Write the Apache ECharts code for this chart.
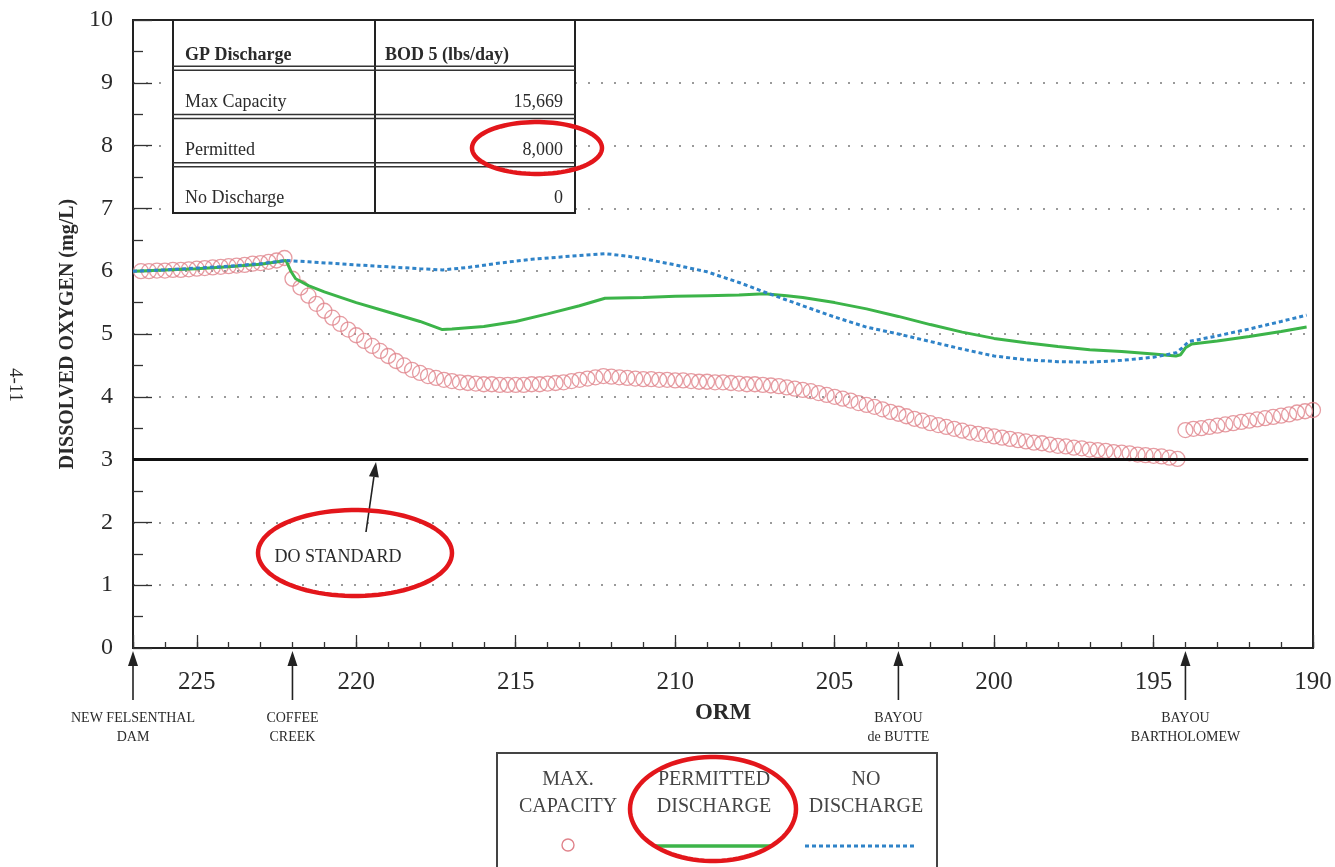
<!DOCTYPE html>
<html><head><meta charset="utf-8">
<script src="https://cdn.jsdelivr.net/npm/echarts@6/dist/echarts.min.js"></script>
<style>html,body{margin:0;padding:0;background:#fff}#c{width:1335px;height:867px}</style>
</head><body><div id="c"></div>
<script>
// ---- DATA (ORM river mile, dissolved oxygen mg/L) ----
const maxCapacity = [
[226.75,6.00],[226.5,6.00],[226.25,6.01],[226.0,6.01],[225.75,6.02],[225.5,6.02],[225.25,6.03],[225.0,6.04],
[224.75,6.05],[224.5,6.06],[224.25,6.07],[224.0,6.08],[223.75,6.09],[223.5,6.10],[223.25,6.12],[223.0,6.13],
[222.75,6.15],[222.5,6.17],[222.25,6.21],[222.0,5.88],[221.75,5.74],[221.5,5.61],[221.25,5.48],[221.0,5.37],
[220.75,5.26],[220.5,5.16],[220.25,5.07],[220.0,4.98],[219.75,4.89],[219.5,4.81],[219.25,4.73],[219.0,4.65],
[218.75,4.57],[218.5,4.50],[218.25,4.43],[218.0,4.38],[217.75,4.33],[217.5,4.30],[217.25,4.27],[217.0,4.25],
[216.75,4.23],[216.5,4.22],[216.25,4.21],[216.0,4.20],[215.75,4.20],[215.5,4.19],[215.25,4.19],[215.0,4.19],
[214.75,4.19],[214.5,4.20],[214.25,4.20],[214.0,4.21],[213.75,4.22],[213.5,4.23],[213.25,4.25],[213.0,4.27],
[212.75,4.29],[212.5,4.31],[212.25,4.33],[212.0,4.32],[211.75,4.31],[211.5,4.30],[211.25,4.29],[211.0,4.28],
[210.75,4.28],[210.5,4.27],[210.25,4.27],[210.0,4.26],[209.75,4.26],[209.5,4.25],[209.25,4.24],[209.0,4.24],
[208.75,4.23],[208.5,4.23],[208.25,4.22],[208.0,4.21],[207.75,4.20],[207.5,4.20],[207.25,4.19],[207.0,4.18],
[206.75,4.17],[206.5,4.15],[206.25,4.13],[206.0,4.11],[205.75,4.09],[205.5,4.06],[205.25,4.03],[205.0,4.00],
[204.75,3.97],[204.5,3.94],[204.25,3.90],[204.0,3.87],[203.75,3.84],[203.5,3.80],[203.25,3.76],[203.0,3.73],
[202.75,3.69],[202.5,3.65],[202.25,3.62],[202.0,3.58],[201.75,3.55],[201.5,3.52],[201.25,3.49],[201.0,3.46],
[200.75,3.43],[200.5,3.41],[200.25,3.39],[200.0,3.37],[199.75,3.35],[199.5,3.33],[199.25,3.31],[199.0,3.29],
[198.75,3.27],[198.5,3.26],[198.25,3.24],[198.0,3.22],[197.75,3.21],[197.5,3.19],[197.25,3.18],[197.0,3.16],
[196.75,3.15],[196.5,3.14],[196.25,3.12],[196.0,3.11],[195.75,3.10],[195.5,3.08],[195.25,3.07],[195.0,3.06],
[194.75,3.05],[194.5,3.03],[194.25,3.01],[194.0,3.47],[193.75,3.49],[193.5,3.50],[193.25,3.52],[193.0,3.54],
[192.75,3.56],[192.5,3.58],[192.25,3.60],[192.0,3.62],[191.75,3.64],[191.5,3.66],[191.25,3.68],[191.0,3.70],
[190.75,3.72],[190.5,3.75],[190.25,3.77],[190.0,3.79]
];
const permittedDischarge = [
[227,6.00],[226,6.02],[225,6.04],[224,6.07],[223,6.11],[222.2,6.17],[222.05,6.00],[221.9,5.88],[221.5,5.77],
[221,5.67],[220,5.50],[219,5.35],[218,5.20],[217.3,5.07],[217,5.08],[216,5.12],[215,5.20],[214,5.32],[213,5.45],
[212.2,5.57],[211,5.58],[210,5.60],[209,5.61],[208,5.62],[207.2,5.64],[206.5,5.61],[206,5.58],[205,5.50],
[204,5.40],[203,5.28],[202,5.15],[201,5.03],[200,4.93],[199,4.86],[198,4.80],[197,4.75],[196,4.72],[195,4.68],
[194.3,4.65],[194.15,4.67],[194.0,4.78],[193.8,4.84],[193,4.89],[192,4.96],[191,5.04],[190.2,5.11]
];
const noDischarge = [
[227,6.00],[226,6.02],[225,6.05],[224,6.08],[223,6.12],[222.2,6.17],[221.5,6.15],[220,6.10],[219,6.07],[218,6.04],
[217.3,6.02],[216.5,6.06],[215.5,6.13],[214.5,6.19],[213.5,6.23],[212.2,6.28],[211.5,6.24],[211,6.20],[210,6.10],
[209,5.99],[208,5.82],[207.1,5.65],[206,5.45],[205,5.27],[204,5.11],[203,5.00],[202,4.88],[201,4.76],[200,4.65],
[199,4.59],[198,4.56],[197,4.55],[196,4.58],[195,4.63],[194.3,4.70],[194.1,4.78],[193.9,4.88],[193,4.97],
[192,5.08],[191,5.20],[190.2,5.30]
];
const doStandardValue = 3;
const doStandardRange = [227, 190.15];
const sites = [
  {lines: ['NEW FELSENTHAL', 'DAM'], orm: 227},
  {lines: ['COFFEE', 'CREEK'], orm: 222},
  {lines: ['BAYOU', 'de BUTTE'], orm: 203},
  {lines: ['BAYOU', 'BARTHOLOMEW'], orm: 194}
];
const tableHeader = ['GP Discharge', 'BOD 5 (lbs/day)'];
const tableRows = [['Max Capacity', '15,669'], ['Permitted', '8,000'], ['No Discharge', '0']];
const legendItems = [['MAX.', 'CAPACITY'], ['PERMITTED', 'DISCHARGE'], ['NO', 'DISCHARGE']];

// ---- STYLE ----
const SERIF = "'Liberation Serif','DejaVu Serif',serif";
const TXT = '#2a2a2a';
const RED_C = '#e0838b';
const GREEN = '#3cb449';
const BLUE = '#2f83c8';
const ANN = '#e3161b';

const chart = echarts.init(document.getElementById('c'));
const xCommon = {type: 'value', min: 190, max: 227, inverse: true, position: 'bottom', offset: 0};
chart.setOption({
  animation: false,
  backgroundColor: '#fff',
  grid: {left: 133, right: 22, top: 20, bottom: 219, show: true, borderColor: '#222', borderWidth: 2},
  xAxis: [
    Object.assign({}, xCommon, {
      interval: 1,
      axisLine: {show: true, lineStyle: {color: '#222', width: 2}},
      axisTick: {show: true, inside: true, length: 6, lineStyle: {color: '#333', width: 1.3}},
      axisLabel: {show: false},
      splitLine: {show: false}
    }),
    Object.assign({}, xCommon, {
      interval: 5,
      axisLine: {show: false},
      axisTick: {show: true, inside: true, length: 13, lineStyle: {color: '#333', width: 1.3}},
      axisLabel: {show: true, margin: 22, fontFamily: SERIF, fontSize: 25, color: TXT,
        formatter: v => (v % 5 === 0 ? String(v) : '')},
      splitLine: {show: false},
      name: 'ORM', nameLocation: 'middle', nameGap: 54,
      nameTextStyle: {fontFamily: SERIF, fontSize: 23, fontWeight: 'bold', color: TXT}
    })
  ],
  yAxis: {
    type: 'value', min: 0, max: 10, interval: 1,
    axisLine: {show: true, lineStyle: {color: '#222', width: 2}},
    axisTick: {show: true, inside: true, length: 19, lineStyle: {color: '#333', width: 1.3}},
    minorTick: {show: true, splitNumber: 2, length: 10, lineStyle: {color: '#333', width: 1.3}},
    axisLabel: {margin: 20, fontFamily: SERIF, fontSize: 24, color: TXT},
    splitLine: {show: true, showMinLine: false, showMaxLine: false,
      lineStyle: {color: '#9a9a9a', width: 2, type: [2, 11]}},
    name: 'DISSOLVED OXYGEN (mg/L)', nameLocation: 'middle', nameGap: 55,
    nameTextStyle: {fontFamily: SERIF, fontSize: 20, fontWeight: 'bold', color: TXT}
  },
  series: [
    {name: 'MAX. CAPACITY', type: 'scatter', data: maxCapacity, symbol: 'circle', symbolSize: 15,
      itemStyle: {color: 'rgba(255,255,255,0)', borderColor: RED_C, borderWidth: 1.3}, z: 2},
    {name: 'DO STANDARD', type: 'line', data: doStandardRange.map(x => [x, doStandardValue]),
      symbol: 'none', lineStyle: {color: '#111', width: 3}, z: 3},
    {name: 'PERMITTED DISCHARGE', type: 'line', data: permittedDischarge, symbol: 'none',
      lineStyle: {color: GREEN, width: 3}, z: 4},
    {name: 'NO DISCHARGE', type: 'line', data: noDischarge, symbol: 'none',
      lineStyle: {color: BLUE, width: 3, type: [4, 3]}, z: 5}
  ]
});

// ---- ANNOTATIONS ----
function ellipsePts(cx, cy, rx, ry) {
  const pts = [];
  for (let i = 0; i < 90; i++) { const a = i / 90 * Math.PI * 2; pts.push([cx + rx * Math.cos(a), cy + ry * Math.sin(a)]); }
  return pts;
}
function arrow(x1, y1, x2, y2) {
  const dx = x2 - x1, dy = y2 - y1, L = Math.hypot(dx, dy), ux = dx / L, uy = dy / L;
  const bx = x2 - ux * 15, by = y2 - uy * 15, px = -uy * 5, py = ux * 5;
  return [
    {type: 'line', shape: {x1: x1, y1: y1, x2: bx, y2: by}, style: {stroke: '#222', lineWidth: 1.6}},
    {type: 'polygon', shape: {points: [[x2, y2], [bx + px, by + py], [bx - px, by - py]]}, style: {fill: '#222'}}
  ];
}
const g = [];
const axisY = chart.convertToPixel({yAxisIndex: 0}, 0);
sites.forEach(s => {
  const x = chart.convertToPixel({xAxisIndex: 0}, s.orm);
  arrow(x, axisY + 52, x, axisY + 3).forEach(e => g.push(e));
  g.push({type: 'text', x: x, y: axisY + 61, style: {text: s.lines.join('\n'), fontFamily: SERIF, fontSize: 14,
    lineHeight: 19, fill: TXT, align: 'center', verticalAlign: 'top'}});
});
// table
const T = {l: 173, m: 375, r: 575, t: 20, b: 213};
g.push({type: 'rect', shape: {x: T.l, y: T.t, width: T.r - T.l, height: T.b - T.t}, style: {fill: '#fff', stroke: '#222', lineWidth: 2}, z: 50});
g.push({type: 'line', shape: {x1: T.m, y1: T.t, x2: T.m, y2: T.b}, style: {stroke: '#222', lineWidth: 2}, z: 51});
const rowH = (T.b - T.t) / 4;
[1, 2, 3].forEach(i => {
  const y = T.t + rowH * i;
  g.push({type: 'line', shape: {x1: T.l, y1: y - 2, x2: T.r, y2: y - 2}, style: {stroke: '#333', lineWidth: 1.4}, z: 51});
  g.push({type: 'line', shape: {x1: T.l, y1: y + 2, x2: T.r, y2: y + 2}, style: {stroke: '#333', lineWidth: 1.4}, z: 51});
});
g.push({type: 'text', x: 185, y: T.t + rowH * 0.74, style: {text: tableHeader[0], fontFamily: SERIF, fontSize: 18, fontWeight: 'bold', fill: TXT, verticalAlign: 'middle'}, z: 52});
g.push({type: 'text', x: 385, y: T.t + rowH * 0.74, style: {text: tableHeader[1], fontFamily: SERIF, fontSize: 18, fontWeight: 'bold', fill: TXT, verticalAlign: 'middle'}, z: 52});
tableRows.forEach((r, i) => {
  const y = T.t + rowH * (i + 1) + rowH * 0.7;
  g.push({type: 'text', x: 185, y: y, style: {text: r[0], fontFamily: SERIF, fontSize: 18, fill: TXT, verticalAlign: 'middle'}, z: 52});
  g.push({type: 'text', x: 563, y: y, style: {text: r[1], fontFamily: SERIF, fontSize: 18, fill: TXT, align: 'right', verticalAlign: 'middle'}, z: 52});
});
// DO standard label + arrow
g.push({type: 'text', x: 338, y: 557, style: {text: 'DO STANDARD', fontFamily: SERIF, fontSize: 18, fill: TXT, align: 'center', verticalAlign: 'middle'}, z: 52});
arrow(366, 532, 376, 462).forEach(e => g.push(e));
// legend box
g.push({type: 'rect', shape: {x: 497, y: 753, width: 440, height: 130}, style: {fill: '#fff', stroke: '#444', lineWidth: 2}, z: 50});
const legCx = [568, 714, 866];
legendItems.forEach((it, i) => {
  g.push({type: 'text', x: legCx[i], y: 766, style: {text: it.join('\n'), fontFamily: SERIF, fontSize: 20, lineHeight: 27, fill: '#444', align: 'center', verticalAlign: 'top'}, z: 52});
});
g.push({type: 'circle', shape: {cx: 568, cy: 845, r: 6}, style: {fill: 'none', stroke: RED_C, lineWidth: 1.4}, z: 52});
g.push({type: 'line', shape: {x1: 655, y1: 846, x2: 772, y2: 846}, style: {stroke: GREEN, lineWidth: 3.5}, z: 52});
g.push({type: 'line', shape: {x1: 805, y1: 846, x2: 915, y2: 846}, style: {stroke: BLUE, lineWidth: 3, lineDash: [4, 3]}, z: 52});
// page number
g.push({type: 'text', x: 15, y: 385, rotation: -Math.PI / 2, style: {text: '4-11', fontFamily: SERIF, fontSize: 19, fill: TXT, align: 'center', verticalAlign: 'middle'}});
// red highlight ellipses
[[537, 148, 65, 26], [355, 553, 97, 43], [713, 809, 83, 52]].forEach(e => {
  g.push({type: 'polygon', shape: {points: ellipsePts(e[0], e[1], e[2], e[3])}, style: {fill: 'none', stroke: ANN, lineWidth: 4.5}, z: 60});
});
chart.setOption({graphic: g});
</script></body></html>
